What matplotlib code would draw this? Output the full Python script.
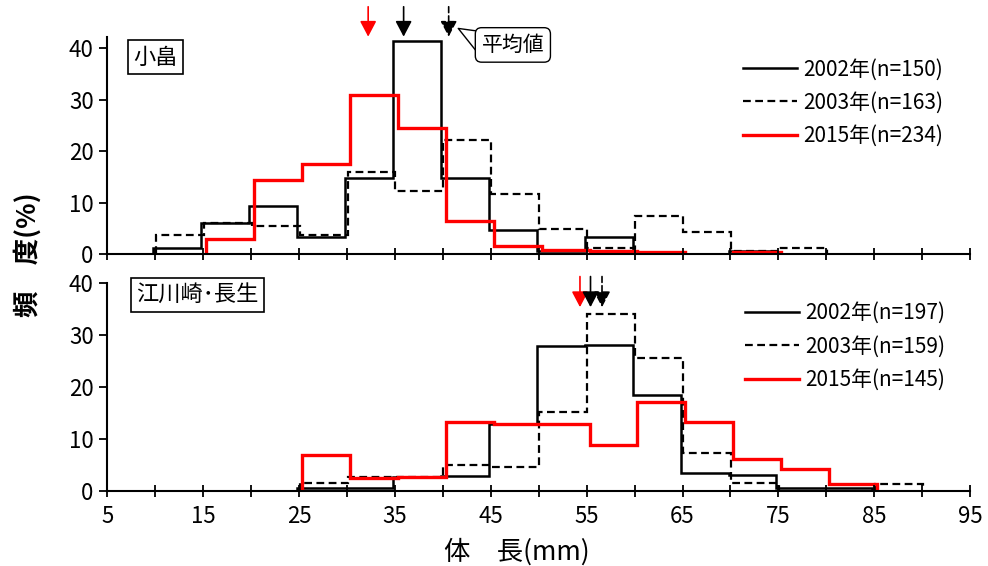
import matplotlib
matplotlib.use("Agg")
import matplotlib.pyplot as plt
import numpy as np

plt.rcParams['font.family'] = ['Noto Sans CJK JP', 'DejaVu Sans']

# bin edges (mm)
edges_top = np.arange(10, 85, 5)
edges_bot = np.arange(20, 95, 5)

# 小畠 (%)
top_2002 = [1.3, 6.0, 9.3, 3.3, 14.7, 41.3, 14.7, 4.7, 0.7, 3.3, 0, 0, 0.7, 0]
top_2003 = [3.7, 6.1, 5.5, 3.7, 16.0, 12.3, 22.1, 11.7, 4.9, 1.2, 7.4, 4.3, 0.6, 1.2]
top_2015 = [0, 2.9, 14.5, 17.5, 30.8, 24.4, 6.4, 1.7, 0.85, 0.6, 0.45, 0, 0.45, 0]

# 江川崎･長生 (%)
bot_2002 = [0, 0.5, 0.5, 2.6, 2.8, 12.9, 27.9, 28.1, 18.5, 3.4, 3.1, 0.5, 0.5, 0]
bot_2003 = [0, 1.4, 2.6, 2.6, 5.0, 4.5, 15.2, 34.1, 25.6, 7.2, 1.4, 0, 0, 1.3]
bot_2015 = [0, 6.9, 2.4, 2.6, 13.2, 12.9, 12.9, 8.8, 17.1, 13.3, 6.1, 4.1, 1.3, 0]

# mean body length (mm)
mean_top = {'2002': 35.9, '2003': 40.6, '2015': 32.2}
mean_bot = {'2002': 55.4, '2003': 56.6, '2015': 54.3}

labels_top = ['2002年(n=150)', '2003年(n=163)', '2015年(n=234)']
labels_bot = ['2002年(n=197)', '2003年(n=159)', '2015年(n=145)']

styles = {
    '2002': dict(color='black', lw=1.8, ls='-', shift=-0.2),
    '2003': dict(color='black', lw=1.6, ls=(0, (3.5, 2)), shift=0.05),
    '2015': dict(color='red', lw=2.4, ls='-', shift=0.3),
}


def draw_hist(ax, edges, vals, st, label):
    # draw each run of non-zero bins as its own outline
    vals = np.asarray(vals, dtype=float)
    e = edges + st['shift']
    first = True
    i = 0
    while i < len(vals):
        if vals[i] > 0:
            j = i
            while j < len(vals) and vals[j] > 0:
                j += 1
            ax.stairs(vals[i:j], e[i:j + 1], baseline=0, fill=False,
                      color=st['color'], lw=st['lw'], ls=st['ls'],
                      label=label if first else None)
            first = False
            i = j
        else:
            i += 1


def draw_mean(ax, x, y0, y1, st):
    ax.annotate('', xy=(x, y1), xytext=(x, y0),
                arrowprops=dict(arrowstyle='-|>,head_length=0.95,head_width=0.5',
                                color=st['color'], lw=1.2, ls=st['ls'],
                                shrinkA=0, shrinkB=0),
                annotation_clip=False)


def style_axes(ax, ymax, show_x):
    ax.set_xlim(5, 95)
    ax.set_ylim(0, ymax)
    for s in ['top', 'right']:
        ax.spines[s].set_visible(False)
    for s in ['left', 'bottom']:
        ax.spines[s].set_linewidth(1.5)
        ax.spines[s].set_zorder(5)
    ax.set_yticks([0, 10, 20, 30, 40])
    ax.set_xticks(np.arange(5, 96, 10))
    ax.set_xticks(np.arange(10, 91, 10), minor=True)
    ax.tick_params(axis='y', direction='out', length=6, width=1.3, labelsize=16, pad=4)
    ax.tick_params(axis='x', which='both', direction='inout', length=9, width=1.3,
                   labelsize=16, pad=6, labelbottom=show_x)


fig = plt.figure(figsize=(9.88, 5.66), dpi=100)
ax1 = fig.add_axes([0.1088, 0.5507, 0.8730, 0.3845])
ax2 = fig.add_axes([0.1088, 0.1330, 0.8730, 0.3665])

for ax, edges, series, labels in [
        (ax1, edges_top, [top_2002, top_2003, top_2015], labels_top),
        (ax2, edges_bot, [bot_2002, bot_2003, bot_2015], labels_bot)]:
    for key, vals, lab in zip(['2002', '2003', '2015'], series, labels):
        draw_hist(ax, edges, vals, styles[key], lab)

style_axes(ax1, 42.2, False)
style_axes(ax2, 40, True)

for key in ['2015', '2002', '2003']:
    draw_mean(ax1, mean_top[key], 48.0, 42.2, styles[key])
    draw_mean(ax2, mean_bot[key], 41.3, 35.4, styles[key])

ax1.annotate('平均値', xy=(41.6, 43.8), xytext=(47.3, 40.6), fontsize=15,
             ha='center', va='center', annotation_clip=False, zorder=6,
             bbox=dict(boxstyle='round,pad=0.3', fc='white', ec='black', lw=1),
             arrowprops=dict(arrowstyle='wedge,tail_width=1.2,shrink_factor=0.5',
                             fc='white', ec='black', lw=1, relpos=(0.06, 0.55),
                             patchA=None, shrinkA=0, shrinkB=0))

ax1.text(10.0, 38.2, '小畠', fontsize=16, ha='center', va='center',
         bbox=dict(boxstyle='square,pad=0.25', fc='white', ec='black', lw=1.2))
ax2.text(14.4, 37.8, '江川崎･長生', fontsize=16, ha='center', va='center', clip_on=False,
         bbox=dict(boxstyle='square,pad=0.25', fc='white', ec='black', lw=1.2))

leg_kw = dict(loc='upper left', frameon=False, fontsize=15, handlelength=2.6,
              handletextpad=0.3, labelspacing=0.55, borderpad=0, borderaxespad=0,
              bbox_transform=fig.transFigure)
ax1.legend(bbox_to_anchor=(0.752, 0.897), **leg_kw)
ax2.legend(bbox_to_anchor=(0.754, 0.466), **leg_kw)

fig.text(0.028, 0.55, '頻　度(%)', rotation=90, fontsize=19, ha='center', va='center',
         fontweight='bold')
fig.text(0.523, 0.025, '体　長(mm)', fontsize=19, ha='center', va='center')

fig.savefig('out.png', dpi=100)
